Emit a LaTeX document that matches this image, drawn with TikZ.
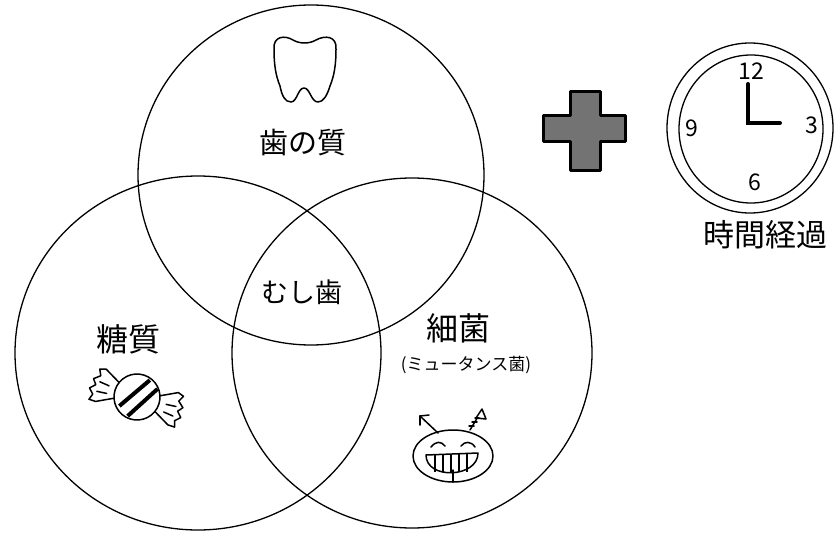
\documentclass[tikz,border=0pt]{standalone}
\usepackage{fontspec}
\newfontfamily\jp{Noto Sans CJK JP}
\usetikzlibrary{arrows.meta}
\begin{document}
\begin{tikzpicture}[x=1pt,y=-1pt,
  ring/.style={line width=1.3pt, black},
  ink/.style={line width=1.5pt, black, line join=round, line cap=round},
  lbl/.style={inner sep=0pt, text=black},
  clocknum/.style={inner sep=0pt, font=\jp\fontsize{23}{23}\selectfont}]
\useasboundingbox (0,0) rectangle (834,540);

% three overlapping factors
\draw[ring] (311,175) ellipse [x radius=173, y radius=170];
\draw[ring] (198,353) ellipse [x radius=183, y radius=177];
\draw[ring] (412,353) ellipse [x radius=180, y radius=175];

% labels
\node[lbl, font=\jp\fontsize{29}{30}\selectfont] (teeth) at (303,143) {歯の質};
\node[lbl, font=\jp\fontsize{27}{28}\selectfont] (caries) at (302,292) {むし歯};
\node[lbl, font=\jp\fontsize{32}{33}\selectfont] (sugar) at (128,339) {糖質};
\node[lbl, font=\jp\fontsize{32}{33}\selectfont] (germ) at (458,328) {細菌};
\node[lbl, font=\jp\fontsize{17}{18}\selectfont] (mutans) at (466,365) {(ミュータンス菌)};

% tooth
\begin{scope}[shift={(273,36)}]
\draw[ink] (1,13) .. controls (0,0) and (12,-1) .. (20,4)
  .. controls (27,8) and (36,8) .. (43,4)
  .. controls (52,-1) and (64,0) .. (63,13)
  .. controls (63,30) and (61,40) .. (57,50)
  .. controls (54,60) and (50,66) .. (45,66)
  .. controls (38,66) and (37,52) .. (31,52)
  .. controls (25,52) and (24,66) .. (18,66)
  .. controls (12,66) and (9,60) .. (7,50)
  .. controls (3,40) and (1,30) .. (1,13) -- cycle;
\end{scope}

% candy
\begin{scope}[shift={(137,397)}, rotate=-18]
\draw[ink] (-21,-8) -- (-38,-17) -- (-44,-15) -- (-41,-9) -- (-47,-4) -- (-43,1)
  -- (-48,6) -- (-43,11) -- (-45,17) -- (-38,17) -- (-21,8);
\draw[ink] (-40,-3) -- (-30,-2);
\draw[ink] (-40,7) -- (-30,6);
\draw[ink] (21,-8) -- (38,-17) -- (44,-15) -- (41,-9) -- (47,-4) -- (43,1)
  -- (48,6) -- (43,11) -- (45,17) -- (38,17) -- (21,8);
\draw[ink] (40,-3) -- (30,-2);
\draw[ink] (40,7) -- (30,6);
\draw[ink, fill=white] (0,0) circle [radius=23];
\draw[line width=4pt] (-14,14) -- (7,-20);
\draw[line width=4pt] (-3,21) -- (17,-14);
\end{scope}

% smiling germ
\begin{scope}[shift={(453,456)}]
\draw[ink] (-15,-23) -- (-33,-40);
\draw[ink] (-33,-40) -- (-24,-41);
\draw[ink] (-33,-40) -- (-33,-31);
\draw[ink] (17,-26) -- (29,-46);
\draw[ink, fill=white] (29,-47) -- (23,-38) -- (33,-37) -- cycle;
\draw[ink] (16,-30) -- (21,-30) (19,-34) -- (24,-34) (22,-38) -- (26,-38);
\draw[ink] (0,0) ellipse [x radius=40, y radius=26];
\draw[ink] (-22,-9) .. controls (-17,-15) and (-12,-15) .. (-8,-10);
\draw[ink] (8,-10) .. controls (12,-15) and (18,-15) .. (22,-9);
\draw[ink] (-27,-1) -- (25,-3) .. controls (25,22) and (-27,24) .. (-27,-1) -- cycle;
\foreach \tx in {-18,-10,-2,6,14} \draw[line width=1.2pt] (\tx,-2) -- (\tx,16);
\draw[ink] (0,14) -- (0,26);
\end{scope}

% plus sign
\draw[line width=3pt, fill=black!55, line join=round]
  (570,92) -- (600,92) -- (600,116) -- (625,116) -- (625,142) -- (600,142)
  -- (600,170) -- (570,170) -- (570,142) -- (543,142) -- (543,116) -- (570,116) -- cycle;

% clock
\draw[ring] (750,128) ellipse [x radius=83, y radius=85];
\draw[ring] (751,129) ellipse [x radius=72, y radius=74];
\node[clocknum] (n12) at (751,71) {12};
\node[clocknum] (n3) at (812,125) {3};
\node[clocknum] (n6) at (755,182) {6};
\node[clocknum] (n9) at (692,128) {9};
\coordinate (hub) at (748,123);
\draw[line width=4pt, line cap=round] (748,84) -- (hub) -- (780,123);
\node[lbl, font=\jp\fontsize{31}{32}\selectfont] (elapsed) at (765,235) {時間経過};
\end{tikzpicture}
\end{document}
